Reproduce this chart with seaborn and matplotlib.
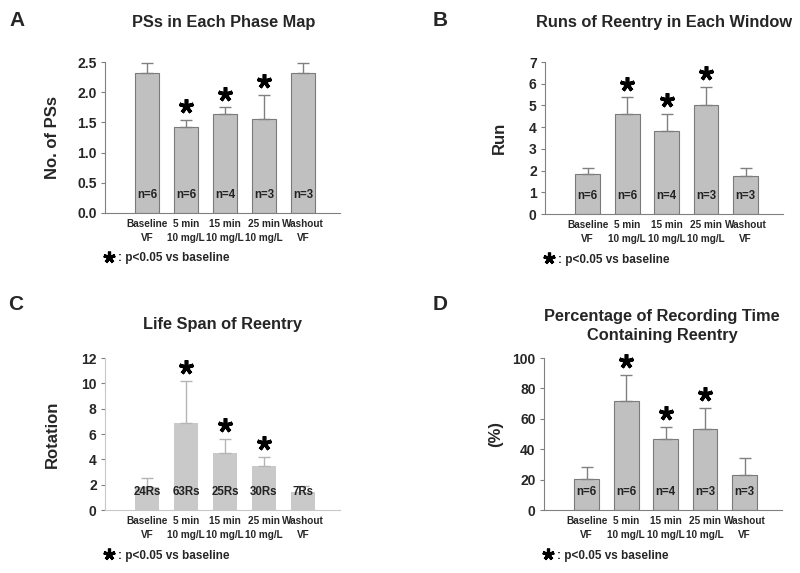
import matplotlib
matplotlib.use("Agg")
import matplotlib.pyplot as plt
import seaborn as sns
import pandas as pd
import numpy as np

# dati
groups = ["Baseline\nVF", "5 min\n10 mg/L", "15 min\n10 mg/L", "25 min\n10 mg/L", "Washout\nVF"]

ps_mean = [2.32, 1.43, 1.64, 1.56, 2.32]
ps_err = [0.16, 0.11, 0.11, 0.40, 0.16]
ps_n = ["n=6", "n=6", "n=4", "n=3", "n=3"]

run_mean = [1.82, 4.60, 3.83, 5.00, 1.75]
run_err = [0.28, 0.77, 0.77, 0.87, 0.35]
run_n = ["n=6", "n=6", "n=4", "n=3", "n=3"]

life_mean = [1.85, 6.90, 4.50, 3.50, 1.40]
life_err = [0.70, 3.30, 1.10, 0.70, 0.50]
life_n = ["24Rs", "63Rs", "25Rs", "30Rs", "7Rs"]

pct_mean = [20.5, 71.5, 47.0, 53.5, 23.0]
pct_err = [8.0, 17.5, 7.5, 13.5, 11.0]
pct_n = ["n=6", "n=6", "n=4", "n=3", "n=3"]

signif = [False, True, True, True, False]

sns.set_style("white")
plt.rcParams["font.family"] = ["Liberation Sans", "DejaVu Sans"]
plt.rcParams["font.weight"] = "bold"

W, H = 800, 573
fig = plt.figure(figsize=(8, 5.73), dpi=100)


def px_axes(l, t, r, b):
    return fig.add_axes([l / W, 1 - b / H, (r - l) / W, (b - t) / H])


def pannello(ax, means, errs, labels, ymax, step, ylabel, fmt, ylab_x, light=False):
    df = pd.DataFrame({"gruppo": groups, "valore": means})
    fill = "#c9c9c9" if light else "#c0c0c0"
    edge = "none" if light else "#7a7a7a"
    sns.barplot(data=df, x="gruppo", y="valore", color=fill, edgecolor=edge,
                linewidth=0.8, width=0.63, saturation=1, ax=ax, errorbar=None)
    x = np.arange(len(groups))
    ecol = "#b5b5b5" if light else "#808080"
    ax.errorbar(x, means, yerr=[np.zeros(len(errs)), errs], fmt="none",
                ecolor=ecol, elinewidth=1, capsize=4, capthick=1)
    for i in range(len(groups)):
        ax.text(x[i], ymax * 0.12, labels[i], ha="center", va="center",
                fontsize=8.3, fontweight="bold", color="#222222")
        if signif[i]:
            ax.plot(x[i], means[i] + errs[i] + ymax * 0.09, marker=(5, 2, 0),
                    ms=10.5, mew=2.6, color="black", clip_on=False)
    ax.set_xlim(-1.08, 4.95)
    ax.set_ylim(0, ymax)
    ticks = np.arange(0, ymax + step / 2, step)
    ax.set_yticks(ticks)
    ax.set_yticklabels([fmt.format(t) for t in ticks], fontsize=10, fontweight="bold")
    ax.set_xticks(x)
    ax.set_xticklabels(groups, fontsize=7.2, fontweight="bold", linespacing=1.5)
    ax.tick_params(axis="x", length=0, pad=4)
    ax.tick_params(axis="y", length=3, width=0.8, color="#808080", pad=3, left=True)
    ax.set_xlabel("")
    ax.set_ylabel(ylabel, fontsize=12, fontweight="bold")
    ax.yaxis.set_label_coords(ylab_x, 0.5)
    sns.despine(ax=ax)
    spcol = "#c8c8c8" if light else "#808080"
    for s in ["left", "bottom"]:
        ax.spines[s].set_color(spcol)
        ax.spines[s].set_linewidth(0.8)
    # nota sulla significativita
    ax.plot(0.018, -0.29, marker=(5, 2, 0), ms=8.5, mew=2.3, color="black",
            transform=ax.transAxes, clip_on=False)
    ax.text(0.055, -0.3, ": p<0.05 vs baseline", transform=ax.transAxes,
            fontsize=8.5, fontweight="bold", va="center", ha="left")


axA = px_axes(105, 62, 340, 213)
pannello(axA, ps_mean, ps_err, ps_n, 2.5, 0.5, "No. of PSs", "{:.1f}", -0.19)
axB = px_axes(545, 62, 783, 214)
pannello(axB, run_mean, run_err, run_n, 7, 1, "Run", "{:.0f}", -0.16)
axC = px_axes(105, 358, 340, 510)
pannello(axC, life_mean, life_err, life_n, 12, 2, "Rotation", "{:.0f}", -0.19, light=True)
axD = px_axes(544, 358, 782, 510)
pannello(axD, pct_mean, pct_err, pct_n, 100, 20, "(%)", "{:.0f}", -0.172)

# titoli e lettere dei pannelli
def ftext(xp, yp, s, **kw):
    fig.text(xp / W, 1 - yp / H, s, fontweight="bold", **kw)

ftext(17, 21, "A", fontsize=15, ha="center", va="center")
ftext(440, 21, "B", fontsize=15, ha="center", va="center")
ftext(16, 305, "C", fontsize=15, ha="center", va="center")
ftext(440, 305, "D", fontsize=15, ha="center", va="center")

ftext(224, 23, "PSs in Each Phase Map", fontsize=11.8, ha="center", va="center")
ftext(664, 23, "Runs of Reentry in Each Window", fontsize=11.8, ha="center", va="center")
ftext(222, 325, "Life Span of Reentry", fontsize=11.8, ha="center", va="center")
ftext(662, 326, "Percentage of Recording Time\nContaining Reentry", fontsize=11.8,
      ha="center", va="center", linespacing=1.35)

fig.savefig("out.png", dpi=100)
